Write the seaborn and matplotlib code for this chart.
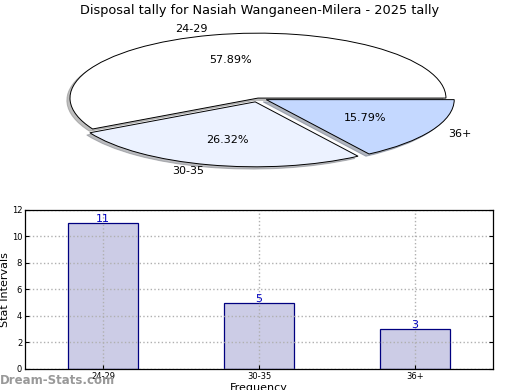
import matplotlib
matplotlib.use('Agg')
import matplotlib.pyplot as plt
import seaborn as sns

# chart data
categories = ['24-29', '30-35', '36+']
counts = [11, 5, 3]
pie_colors = ['#ffffff', '#ecf2ff', '#c4d8ff']
explode = [0, 0.06, 0.05]

title = 'Disposal tally for Nasiah Wanganeen-Milera - 2025 tally'

plt.rcParams['font.family'] = ['DejaVu Sans']

fig = plt.figure(figsize=(5.2, 3.9), dpi=100)

# Pie (squashed ellipse)
ax1 = fig.add_axes([0.1346, 0.582, 0.723, 0.333])
wedges, texts, autotexts = ax1.pie(
    counts, labels=categories, colors=pie_colors, explode=explode,
    autopct='%1.2f%%', startangle=0, counterclock=True,
    shadow={'ox': -0.012, 'oy': -0.025, 'shade': 0.5},
    wedgeprops={'edgecolor': 'black', 'linewidth': 0.7},
    textprops={'fontsize': 8})
ax1.set_aspect('auto')
ax1.set_xlim(-1, 1)
ax1.set_ylim(-1, 1)
for t in texts + autotexts:
    t.set_clip_on(False)
fig.text(0.5, 0.973, title, ha='center', va='center', fontsize=9.3)

# Bar chart
ax2 = fig.add_axes([0.048, 0.054, 0.9, 0.408])
sns.barplot(x=categories, y=counts, ax=ax2, color='#ccccE6', saturation=1,
            edgecolor='#000080', linewidth=0.9, width=0.45)
ax2.set_xlim(-0.5, 2.5)
ax2.set_ylim(0, 12)
ax2.set_yticks(range(0, 13, 2))
ax2.tick_params(labelsize=6, direction='in', right=True, top=False, length=3, pad=2)
ax2.grid(True, linestyle=':', color='#b0b0b0', linewidth=1)
ax2.set_axisbelow(False)
for s in ax2.spines.values():
    s.set_linewidth(0.9)
    s.set_zorder(5)
for i, v in enumerate(counts):
    ax2.text(i, v - 0.1, str(v), ha='center', va='bottom', color='#0000c0', fontsize=8)
ax2.set_ylabel('Stat Intervals', fontsize=8, labelpad=1)
ax2.set_xlabel('Frequency', fontsize=8, labelpad=2)

fig.text(0.0, 0.025, 'Dream-Stats.com', ha='left', va='center', fontsize=8.5,
         color='#999999', fontweight='bold')

fig.savefig('out.png', dpi=100)
